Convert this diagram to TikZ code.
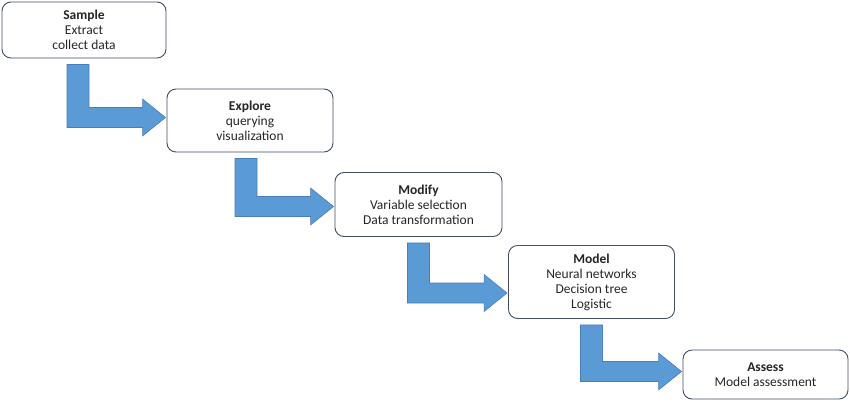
\documentclass[tikz,border=0pt]{standalone}
\usepackage{fontspec}
\setmainfont{Carlito}
\usetikzlibrary{calc}
\definecolor{arrowblue}{HTML}{5B9BD5}
\definecolor{arrowedge}{HTML}{4A7EBB}
\definecolor{boxedge}{HTML}{3F4E63}
\tikzset{
  stage/.style={draw=boxedge, line width=0.9pt, fill=white, rounded corners=9pt,
    align=center, inner sep=0pt, font=\fontsize{13.5}{15}\selectfont, text=black!85},
  flowarrow/.style={fill=arrowblue, draw=arrowedge, line width=0.6pt, line join=miter}
}
% #1 from node, #2 to node, #3 vertical offset of arrow axis from target west (pt, downward positive),
% #4 horizontal offset of the stem from the source centre (pt)
\newcommand{\stepflow}[4]{%
  \path[flowarrow] let \p1=(#1.south), \p2=(#2.west) in
    ({\x1+#4pt-11pt},{\y1-6pt}) -- ({\x1+#4pt+11pt},{\y1-6pt})
    -- ({\x1+#4pt+11pt},{\y2-#3pt+10pt}) -- ({\x2-24pt},{\y2-#3pt+10pt})
    -- ({\x2-24pt},{\y2-#3pt+18.5pt}) -- ({\x2-1pt},{\y2-#3pt})
    -- ({\x2-24pt},{\y2-#3pt-18.5pt}) -- ({\x2-24pt},{\y2-#3pt-10pt})
    -- ({\x1+#4pt-11pt},{\y2-#3pt-10pt}) -- cycle;}
\begin{document}
\begin{tikzpicture}[x=1pt,y=-1pt]
\useasboundingbox (0,0) rectangle (850,402);
\node[stage, minimum width=164pt, minimum height=56pt] (sample) at (84,30)
  {\textbf{Sample}\\Extract\\collect data};
\node[stage, minimum width=166pt, minimum height=63pt] (explore) at (250,120.5)
  {\textbf{Explore}\\querying\\visualization};
\node[stage, minimum width=167pt, minimum height=64pt] (modify) at (418.5,204.5)
  {\textbf{Modify}\\Variable selection\\Data transformation};
\node[stage, minimum width=166pt, minimum height=73pt] (model) at (591.5,282)
  {\textbf{Model}\\Neural networks\\Decision tree\\Logistic};
\node[stage, minimum width=165pt, minimum height=49pt] (assess) at (765.5,374.5)
  {\textbf{Assess}\\Model assessment};
\stepflow{sample}{explore}{-3}{-6}
\stepflow{explore}{modify}{2}{-4}
\stepflow{modify}{model}{11}{0}
\stepflow{model}{assess}{-3}{0}
\end{tikzpicture}
\end{document}
